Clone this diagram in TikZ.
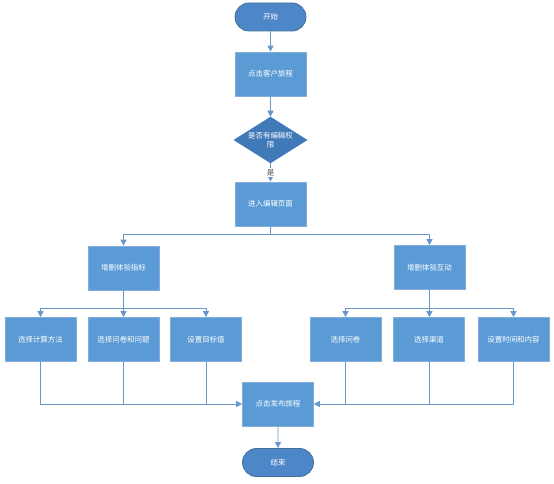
\documentclass[tikz,border=0pt]{standalone}
\usepackage{fontspec}
\setmainfont{Noto Sans CJK SC}
\usetikzlibrary{shapes.geometric,arrows.meta}
\definecolor{boxblue}{HTML}{5B9BD5}
\definecolor{boxedge}{HTML}{86AEDB}
\definecolor{termblue}{HTML}{4D87C7}
\definecolor{termedge}{HTML}{41719C}
\definecolor{diamblue}{HTML}{3F79B8}
\definecolor{linecol}{HTML}{6A97CB}
\tikzset{
  every node/.style={font=\fontsize{5.6}{7}\selectfont, text=white},
  procbox/.style={rectangle, draw=boxedge, fill=boxblue, line width=0.5pt, minimum width=53.25pt, minimum height=33pt, inner sep=0pt, align=center},
  termbox/.style={rounded rectangle, draw=termedge, fill=termblue, line width=0.6pt, minimum width=53.25pt, minimum height=21pt, inner sep=0pt},
  decbox/.style={diamond, draw=diamblue, fill=diamblue, minimum width=54.75pt, minimum height=34.5pt, aspect=1.59, inner sep=0pt},
  conn/.style={draw=linecol, line width=0.7pt},
  arr/.style={conn, -{Triangle[width=4.5pt,length=4.5pt]}},
}
\usetikzlibrary{shapes.misc}
\begin{document}
\begin{tikzpicture}[x=0.75pt,y=-0.75pt]
\useasboundingbox (0,0) rectangle (554,484);
% nodes
\node[termbox] (start) at (270.5,17) {开始};
\node[procbox] (visit) at (270.5,74) {点击客户旅程};
\node[decbox] (perm) at (270.5,140) {};
\node[align=center] (permtext) at (270.5,140) {是否有编辑权\\限};
\node[procbox] (edit) at (270.5,204) {进入编辑页面};
\node[procbox] (metric) at (123.5,268) {增删体验指标};
\node[procbox] (inter) at (429.5,267.5) {增删体验互动};
\node[procbox] (calc) at (40.5,339.5) {选择计算方法};
\node[procbox] (quest) at (123.5,339.5) {选择问卷和问题};
\node[procbox] (target) at (206,339.5) {设置目标值};
\node[procbox] (qsel) at (345.5,339.5) {选择问卷};
\node[procbox] (chan) at (429,339.5) {选择渠道};
\node[procbox] (timec) at (513.5,339.5) {设置时间和内容};
\node[procbox] (pub) at (278,404) {点击发布旅程};
\node[termbox] (stop) at (278,462.5) {结束};
\coordinate (j1) at (270.5,234.5);
\coordinate (j2) at (123.5,308.5);
\coordinate (j3) at (429.5,308.5);
% connectors
\draw[arr] (start) -- (visit);
\draw[arr] (visit) -- (perm);
\draw[arr] (perm) -- node[fill=white, text=black!70, inner sep=0.8pt] {是} (edit);
\draw[conn] (edit) -- (j1);
\draw[arr] (j1) -| (metric);
\draw[arr] (j1) -| (inter);
\draw[conn] (metric) -- (j2);
\draw[arr] (j2) -| (calc);
\draw[arr] (j2) -- (quest);
\draw[arr] (j2) -| (target);
\draw[conn] (inter) -- (j3);
\draw[arr] (j3) -| (qsel);
\draw[arr] (j3) -- (chan);
\draw[arr] (j3) -| (timec);
\draw[arr] (calc.south) |- (pub.west);
\draw[conn] (quest.south) -- (quest.south |- pub.west);
\draw[conn] (target.south) -- (target.south |- pub.west);
\draw[arr] (timec.south) |- (pub.east);
\draw[conn] (qsel.south) -- (qsel.south |- pub.east);
\draw[conn] (chan.south) -- (chan.south |- pub.east);
\draw[arr] (pub) -- (stop);
\end{tikzpicture}
\end{document}
